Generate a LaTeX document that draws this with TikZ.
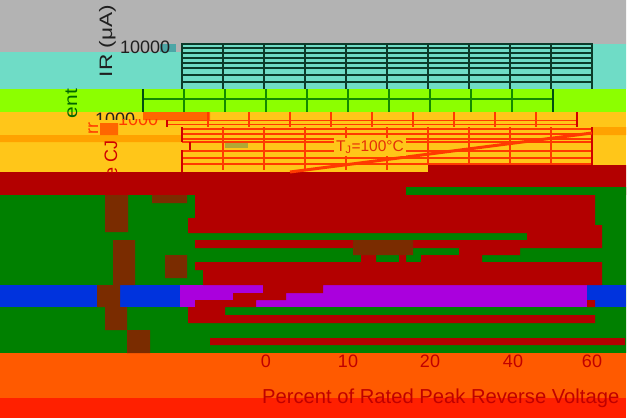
\documentclass[tikz,border=0pt]{standalone}
\usepackage{fontspec}
\setmainfont{Liberation Sans}
\usetikzlibrary{backgrounds}

\definecolor{bandgray}{HTML}{B3B3B3}
\definecolor{bandteal}{HTML}{6FDCC6}
\definecolor{gridteal}{HTML}{0B3B2A}
\definecolor{bandlime}{HTML}{8CFF00}
\definecolor{gridlime}{HTML}{138A00}
\definecolor{edgelime}{HTML}{004D12}
\definecolor{bandyellow}{HTML}{FFC619}
\definecolor{bandamber}{HTML}{FFA200}
\definecolor{gridred}{HTML}{FF3A00}
\definecolor{edgered}{HTML}{D00000}
\definecolor{darkred}{HTML}{B30000}
\definecolor{bandgreen}{HTML}{008000}
\definecolor{bandblue}{HTML}{0033DD}
\definecolor{bandviolet}{HTML}{AA00DD}
\definecolor{bandorange}{HTML}{FF5A00}
\definecolor{bandred}{HTML}{FF2000}
\definecolor{noise}{HTML}{7A2C00}
\definecolor{labelred}{HTML}{C00000}
\definecolor{tjred}{HTML}{E62E08}

\begin{document}
\begin{tikzpicture}[x=1pt, y=-1pt,
  fine line/.style={line width=1.1pt},
  frame line/.style={line width=2.6pt},
  axis text/.style={inner sep=0pt, font=\fontsize{18}{20}\selectfont},
  tick label/.style={axis text, text=labelred}]

  \useasboundingbox (0,0) rectangle (635,418);

  % Stripes, from top to bottom

  \fill[bandgray]   (0,0) rectangle (626,44) (0,44) rectangle (182,52);
  \fill[bandteal]   (182,44) rectangle (626,89) (0,52) rectangle (182,89);
  \fill[bandlime]   (0,89) rectangle (626,112);
  \fill[bandyellow] (0,112) rectangle (626,172);
  \fill[bandamber]  (0,135) rectangle (182,142) (592,127) rectangle (626,135);
  \fill[darkred]    (0,172) rectangle (626,195) (428,165) rectangle (626,172);
  \fill[bandgreen]  (0,195) rectangle (626,353)
                    (406,187) rectangle (626,195) (429,202) rectangle (437,210);
  \fill[bandblue]   (0,285) rectangle (626,307);
  \fill[bandviolet] (180,285) rectangle (587,307);
  \fill[bandorange] (0,353) rectangle (626,398);
  \fill[bandred]    (0,398) rectangle (626,418);

  % Torn pieces of dark red inside the green stripe

  \fill[darkred]
    (195,195) rectangle (595,218) (188,218) rectangle (595,225)
    (188,225) rectangle (602,233) (527,233) rectangle (602,240)
    (195,240) rectangle (602,248) (361,248) rectangle (376,262)
    (459,248) rectangle (520,255) (399,255) rectangle (406,262)
    (421,255) rectangle (482,262) (195,262) rectangle (602,270)
    (203,270) rectangle (602,285)
    (263,285) rectangle (323,293) (233,293) rectangle (286,300)
    (195,300) rectangle (256,307) (587,300) rectangle (595,307)
    (188,307) rectangle (225,315) (188,315) rectangle (595,323)
    (210,338) rectangle (625,345);

  % Dithered leftovers of the lost labels

  \fill[noise]
    (105,195) rectangle (128,232) (152,195) rectangle (187,203)
    (113,240) rectangle (135,285) (165,255) rectangle (187,278)
    (353,240) rectangle (413,255) (97,285) rectangle (120,307)
    (105,307) rectangle (127,330) (127,330) rectangle (150,353);
  \fill[orange!80!red] (143,112) rectangle (210,120) (100,123) rectangle (118,135);
  \fill[teal!70] (160,44) rectangle (176,52);
  \fill[olive!70] (225,142) rectangle (248,148);

  % Grid in the teal stripe

  \draw[fine line, gridteal]
    (223,44) -- ++(0,45) (264,44) -- ++(0,45) (305,44) -- ++(0,45)
    (346,44) -- ++(0,45) (387,44) -- ++(0,45) (428,44) -- ++(0,45)
    (469,44) -- ++(0,45) (510,44) -- ++(0,45) (551,44) -- ++(0,45)
    (182,48) -- (592,48) (182,53) -- (592,53) (182,58) -- (592,58)
    (182,63) -- (592,63) (182,68) -- (592,68) (182,75) -- (592,75)
    (182,82) -- (592,82);
  \draw[frame line, gridteal] (182,89) -- (182,44) -- (592,44) -- (592,89);

  % Grid in the lime stripe

  \draw[fine line, gridlime]
    (184,89) -- ++(0,23) (225,89) -- ++(0,23) (266,89) -- ++(0,23)
    (307,89) -- ++(0,23) (348,89) -- ++(0,23) (389,89) -- ++(0,23)
    (430,89) -- ++(0,23) (471,89) -- ++(0,23) (512,89) -- ++(0,23)
    (143,99) -- (553,99);
  \draw[frame line, edgelime] (143,89) -- (143,112) (553,89) -- (553,112);

  % Grid in the yellow stripe

  \draw[fine line, gridred]
    (208,112) -- ++(0,15) (249,112) -- ++(0,15) (290,112) -- ++(0,15)
    (331,112) -- ++(0,15) (372,112) -- ++(0,15) (413,112) -- ++(0,15)
    (454,112) -- ++(0,15) (495,112) -- ++(0,15) (536,112) -- ++(0,15)
    (167,120.5) -- (577,120.5) (167,124.5) -- (577,124.5)
    (223,127) -- ++(0,43) (264,127) -- ++(0,43) (305,127) -- ++(0,43)
    (346,127) -- ++(0,43) (387,127) -- ++(0,43) (428,127) -- ++(0,38)
    (469,127) -- ++(0,38) (510,127) -- ++(0,38) (551,127) -- ++(0,38)
    (182,129) -- (592,129) (182,134) -- (592,134) (182,139) -- (592,139)
    (182,142) -- (592,142) (182,151) -- (592,151) (182,158) -- (592,158)
    (182,164) -- (592,164);
  \draw[frame line, edgered]
    (167,120) -- (167,127) (577,112) -- (577,127)
    (182,127) -- (182,142) (190,142) -- (190,150) (182,150) -- (182,172)
    (592,127) -- (592,165);
  \draw[line width=3pt, gridred] (290,172) -- (592,133);

  % Texts still readable in the stripes

  \node[axis text, text=black!88, rotate=90, anchor=base] (irlabel)
    at (112,41) {\scalebox{1.26}[1]{IR (μA)}};
  \node[axis text, text=black!88, anchor=base west] (tenk) at (120,53) {10000};
  \node[axis text, text=green!40!black, rotate=90, anchor=base] (entlabel)
    at (77,103.5) {\scalebox{1.16}[1]{ent}};
  \begin{scope}
    \clip (0,112) rectangle (182,119.5);
    \node[axis text, text=black!88, anchor=base west] (onek) at (95,125) {1000};
  \end{scope}
  \begin{scope}
    \clip (0,119.5) rectangle (182,127);
    \node[axis text, text=gridred, anchor=base west] (onekred) at (118,125.5) {1000};
  \end{scope}
  \node[axis text, text=gridred, rotate=90, anchor=base] (rrlabel)
    at (98,128.5) {rr};
  \begin{scope}
    \clip (0,135) rectangle (182,172);
    \node[axis text, text=edgered, rotate=90, anchor=base] (cjlabel)
      at (117,158.5) {e CJ};
  \end{scope}
  \node[fill=bandyellow, inner sep=2pt, text=tjred,
    font=\fontsize{15.5}{17}\selectfont] (tjlabel) at (370,147) {T\textsubscript{J}=100°C};

  % Percent axis

  \node[tick label] (xzero)  at (266,361) {0};
  \node[tick label] (xten)   at (348,361) {10};
  \node[tick label] (xtwenty) at (430,361) {20};
  \node[tick label] (xforty) at (513,361) {40};
  \node[tick label] (xsixty) at (592,361) {60};
  \node[axis text, text=labelred, anchor=base west,
    font=\fontsize{20.2}{24}\selectfont] (xtitle) at (262,403)
    {Percent of Rated Peak Reverse Voltage};
\end{tikzpicture}
\end{document}
